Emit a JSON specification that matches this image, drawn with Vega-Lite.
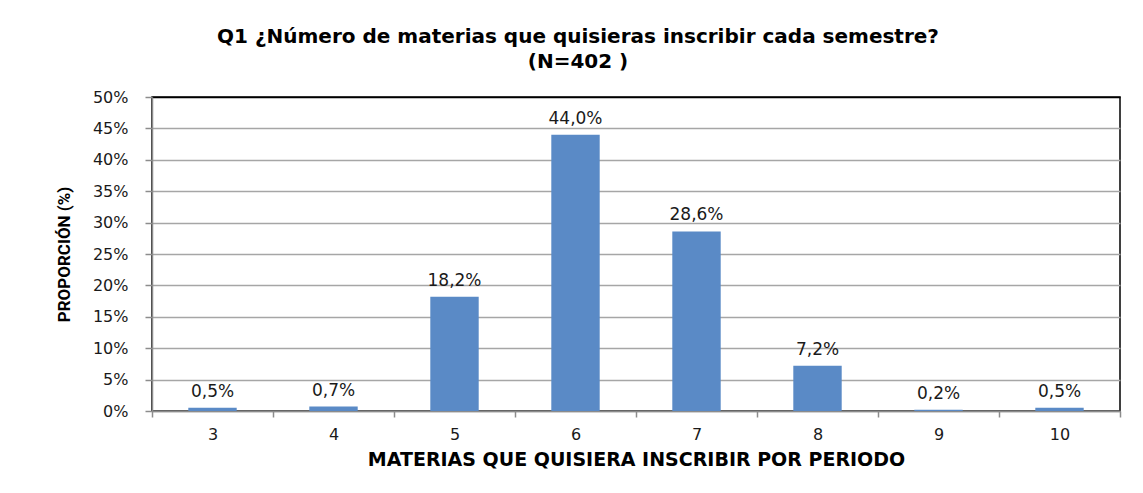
{
  "$schema": "https://vega.github.io/schema/vega-lite/v6.json",
  "autosize": {"type": "none"},
  "width": 968,
  "height": 314,
  "padding": {"left": 152, "top": 97, "right": 23, "bottom": 82},
  "background": "white",
  "config": {
    "locale": {"number": {"decimal": ",", "thousands": ".", "grouping": [3], "currency": ["", " €"]}},
    "view": {"stroke": "black", "strokeWidth": 1.5},
    "font": "DejaVu Sans"
  },
  "title": {
    "text": ["Q1  ¿Número de materias que quisieras inscribir cada semestre?", "(N=402 )"],
    "font": "DejaVu Sans",
    "fontSize": 20,
    "fontWeight": "bold",
    "color": "black",
    "lineHeight": 25,
    "anchor": "middle",
    "dx": -58,
    "offset": 17
  },
  "data": {
    "values": [
      {"materias": "3", "proporcion": 0.005},
      {"materias": "4", "proporcion": 0.007},
      {"materias": "5", "proporcion": 0.182},
      {"materias": "6", "proporcion": 0.440},
      {"materias": "7", "proporcion": 0.286},
      {"materias": "8", "proporcion": 0.072},
      {"materias": "9", "proporcion": 0.002},
      {"materias": "10", "proporcion": 0.005}
    ]
  },
  "encoding": {
    "x": {
      "field": "materias",
      "type": "ordinal",
      "sort": null,
      "scale": {"paddingInner": 0, "paddingOuter": 0},
      "axis": {
        "title": "MATERIAS QUE QUISIERA INSCRIBIR POR PERIODO",
        "titleFont": "DejaVu Sans",
        "titleFontSize": 19,
        "titleFontWeight": "bold",
        "titleColor": "black",
        "titlePadding": 8,
        "labelAngle": 0,
        "labelFontSize": 16,
        "labelColor": "#1a1a1a",
        "labelPadding": 9,
        "bandPosition": 0,
        "tickBand": "extent",
        "domainColor": "#8c8c8c",
        "domainWidth": 1.5,
        "tickColor": "#8c8c8c",
        "tickSize": 6,
        "tickWidth": 1.5,
        "grid": false
      }
    },
    "y": {
      "field": "proporcion",
      "type": "quantitative",
      "scale": {"domain": [0, 0.5]},
      "axis": {
        "title": "PROPORCIÓN (%)",
        "titleFont": "Roboto",
        "titleFontSize": 17,
        "titleFontWeight": "bold",
        "titleColor": "black",
        "titlePadding": 19,
        "values": [0, 0.05, 0.1, 0.15, 0.2, 0.25, 0.3, 0.35, 0.4, 0.45, 0.5],
        "format": ".0%",
        "labelFontSize": 16,
        "labelColor": "#1a1a1a",
        "labelPadding": 17,
        "domainColor": "#8c8c8c",
        "domainWidth": 1.5,
        "tickColor": "#8c8c8c",
        "tickSize": 7,
        "tickWidth": 1.5,
        "grid": true,
        "gridColor": {"condition": {"test": "datum.value >= 0.5", "value": "black"}, "value": "#a6a6a6"},
        "gridWidth": 1.5
      }
    }
  },
  "layer": [
    {
      "mark": {"type": "bar", "color": "#5A8AC6", "width": {"band": 0.4}}
    },
    {
      "mark": {"type": "text", "baseline": "bottom", "dy": -7, "fontSize": 17, "color": "#1a1a1a"},
      "encoding": {
        "text": {"field": "proporcion", "type": "quantitative", "format": ".1%"}
      }
    }
  ]
}
